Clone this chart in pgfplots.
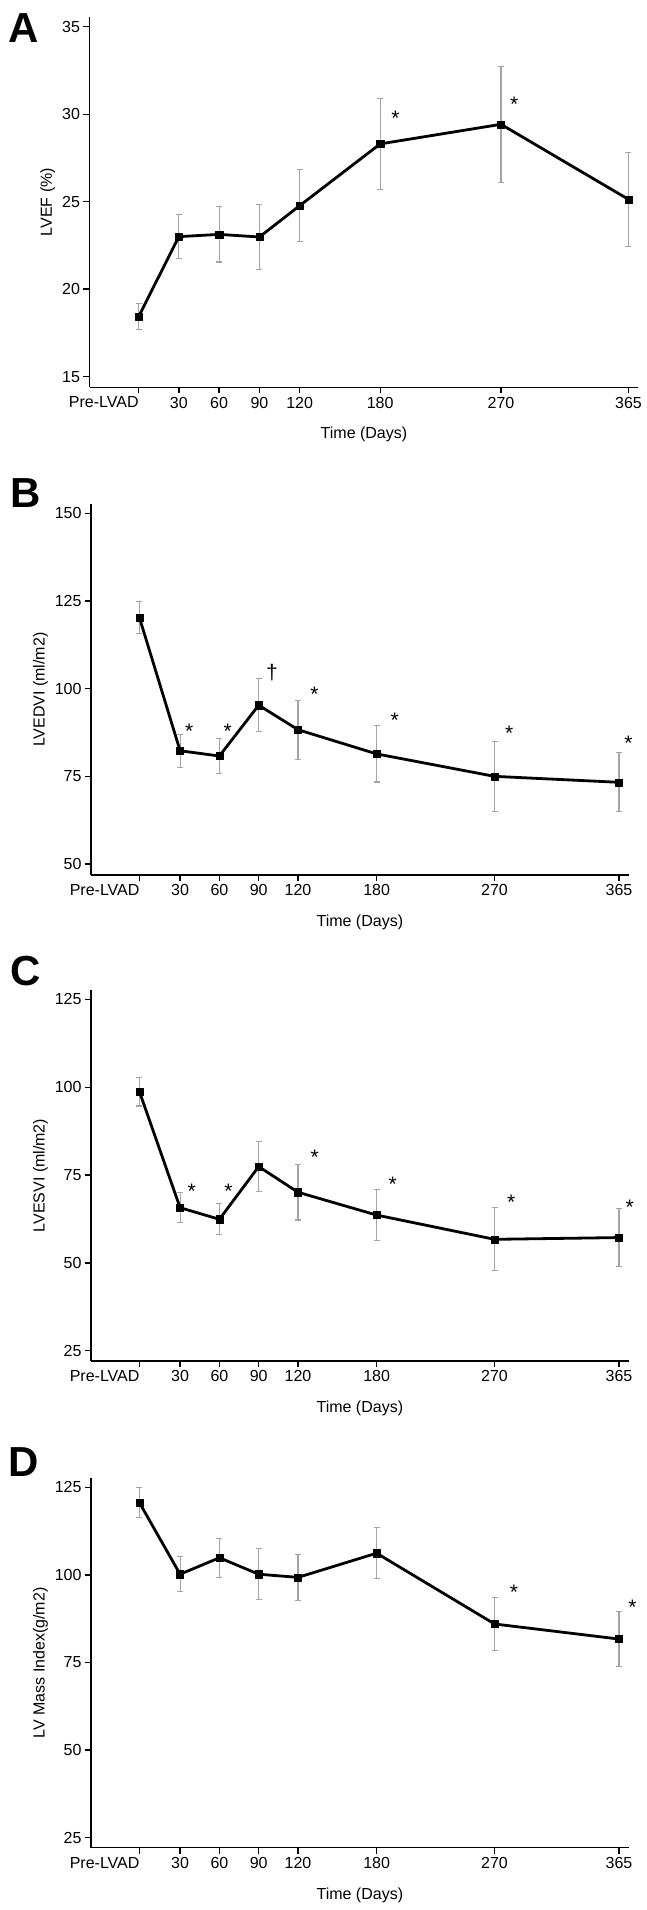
\documentclass[border=0pt]{standalone}
\usepackage{fontspec}
\setmainfont{Liberation Sans}
\usepackage{pgfplots}
\usepackage{pgfplotstable}
\pgfplotsset{compat=1.18}
\definecolor{errgray}{HTML}{A4A4A4}

\pgfplotstableread{
x y e
0 18.43 0.76
30 23.00 1.24
60 23.13 1.58
90 22.98 1.85
120 24.77 2.06
180 28.30 2.58
270 29.42 3.30
365 25.13 2.67
}\dataA
\pgfplotstableread{
x y e
-1 120.25 4.6
30 82.3 4.75
60 80.8 5.0
90 95.3 7.55
120 88.3 8.4
180 81.4 8.0
270 75.0 9.9
365 73.3 8.4
}\dataB
\pgfplotstableread{
x y e
-1 98.7 4.05
30 65.7 4.3
60 62.4 4.4
90 77.4 7.1
120 70.1 7.9
180 63.6 7.3
270 56.7 8.95
365 57.2 8.15
}\dataC
\pgfplotstableread{
x y e
-1 120.6 4.25
30 100.2 4.95
60 104.9 5.55
90 100.2 7.3
120 99.3 6.65
180 106.2 7.3
270 86.0 7.6
365 81.7 7.85
}\dataD

\newcommand{\fs}{\fontsize{16}{19}\selectfont}
\pgfplotsset{
  panel/.style={
    scale only axis,
    axis lines=left,
    axis line style={-, line width=1.5pt, black},
    tick align=outside,
    major tick length=6pt,
    tick style={line width=1.3pt, black},
    xtick={30,60,90,120,180,270,365},
    extra x tick labels={Pre-LVAD},
    extra x tick style={xticklabel style={anchor=north east, xshift=3.5pt}},
    tick label style={font=\fs},
    label style={font=\fs},
    /pgf/number format/assume math mode=true,
    xlabel={Time (Days)},
    clip=false,
  },
  ebars/.style={draw=none, mark=none, forget plot,
    error bars/.cd, y dir=both, y explicit,
    error bar style={draw=errgray, line width=1.1pt},
    error mark options={rotate=90, draw=errgray, mark size=3pt, line width=1.1pt}},
  mline/.style={black, line width=2.8pt, line join=round, mark=square*, mark size=3.6pt,
    mark options={solid, line width=0.4pt, fill=black}},
}
\tikzset{astnode/.style={font=\fontsize{21}{23}\selectfont, inner sep=0pt, yshift=-4.5pt}}

\begin{document}
\begin{tikzpicture}[x=1pt,y=1pt]
\path[use as bounding box] (0,0) rectangle (646,-1910);

% Panel letters
\node[anchor=base west, inner sep=0pt, font=\fontsize{42}{44}\selectfont\bfseries] at (8,-43) {A};
\node[anchor=base west, inner sep=0pt, font=\fontsize{42}{44}\selectfont\bfseries] at (10,-507) {B};
\node[anchor=base west, inner sep=0pt, font=\fontsize{42}{44}\selectfont\bfseries] at (10,-985) {C};
\node[anchor=base west, inner sep=0pt, font=\fontsize{42}{44}\selectfont\bfseries] at (8,-1476) {D};

% ---------- A ----------
\begin{axis}[panel, at={(89.5pt,-387.3pt)}, anchor=south west,
  width=548.9pt, height=370.6pt,
  xmin=-36.6, xmax=372.4, ymin=14.39, ymax=35.57,
  extra x ticks={0}, ytick={15,20,25,30,35}, ylabel={LVEF (\%)}]
\addplot[ebars] table[x=x, y=y, y error=e] {\dataA};
\addplot[mline] table[x=x, y=y] {\dataA};
\node[astnode] at (axis cs:191.4,30.05) {*};
\node[astnode] at (axis cs:279.9,30.85) {*};
\end{axis}

% ---------- B ----------
\begin{axis}[panel, at={(91pt,-875pt)}, anchor=south west,
  width=537.7pt, height=370.7pt,
  xmin=-38, xmax=372.4, ymin=46.86, ymax=152.6,
  extra x ticks={-1}, ytick={50,75,100,125,150}, ylabel={LVEDVI (ml/m2)}]
\addplot[ebars] table[x=x, y=y, y error=e] {\dataB};
\addplot[mline] table[x=x, y=y] {\dataB};
\node[astnode] at (axis cs:36.9,89.2) {*};
\node[astnode] at (axis cs:66.4,89.2) {*};
\node[font=\fontsize{21}{23}\selectfont, text=black, inner sep=0pt] at (axis cs:100.2,104.6) {†};
\node[astnode] at (axis cs:132.5,99.6) {*};
\node[astnode] at (axis cs:193.9,92.4) {*};
\node[astnode] at (axis cs:281.2,88.5) {*};
\node[astnode] at (axis cs:372.2,85.6) {*};
\end{axis}

% ---------- C ----------
\begin{axis}[panel, at={(91pt,-1361pt)}, anchor=south west,
  width=537.7pt, height=371pt,
  xmin=-38, xmax=372.4, ymin=22.07, ymax=127.65,
  extra x ticks={-1}, ytick={25,50,75,100,125}, ylabel={LVESVI (ml/m2)}]
\addplot[ebars] table[x=x, y=y, y error=e] {\dataC};
\addplot[mline] table[x=x, y=y] {\dataC};
\node[astnode] at (axis cs:38.8,71.7) {*};
\node[astnode] at (axis cs:67.0,71.7) {*};
\node[astnode] at (axis cs:132.7,81.2) {*};
\node[astnode] at (axis cs:192.3,73.6) {*};
\node[astnode] at (axis cs:282.7,68.4) {*};
\node[astnode] at (axis cs:373.1,67.0) {*};
\end{axis}

% ---------- D ----------
\begin{axis}[panel, at={(91pt,-1847.7pt)}, anchor=south west,
  width=537.7pt, height=369.4pt,
  xmin=-38, xmax=372.4, ymin=22.15, ymax=127.57,
  extra x ticks={-1}, ytick={25,50,75,100,125}, ylabel={LV Mass Index(g/m2)}]
\addplot[ebars] table[x=x, y=y, y error=e] {\dataD};
\addplot[mline] table[x=x, y=y] {\dataD};
\node[astnode] at (axis cs:284.9,96.2) {*};
\node[astnode] at (axis cs:375.3,91.95) {*};
\end{axis}
\end{tikzpicture}
\end{document}
